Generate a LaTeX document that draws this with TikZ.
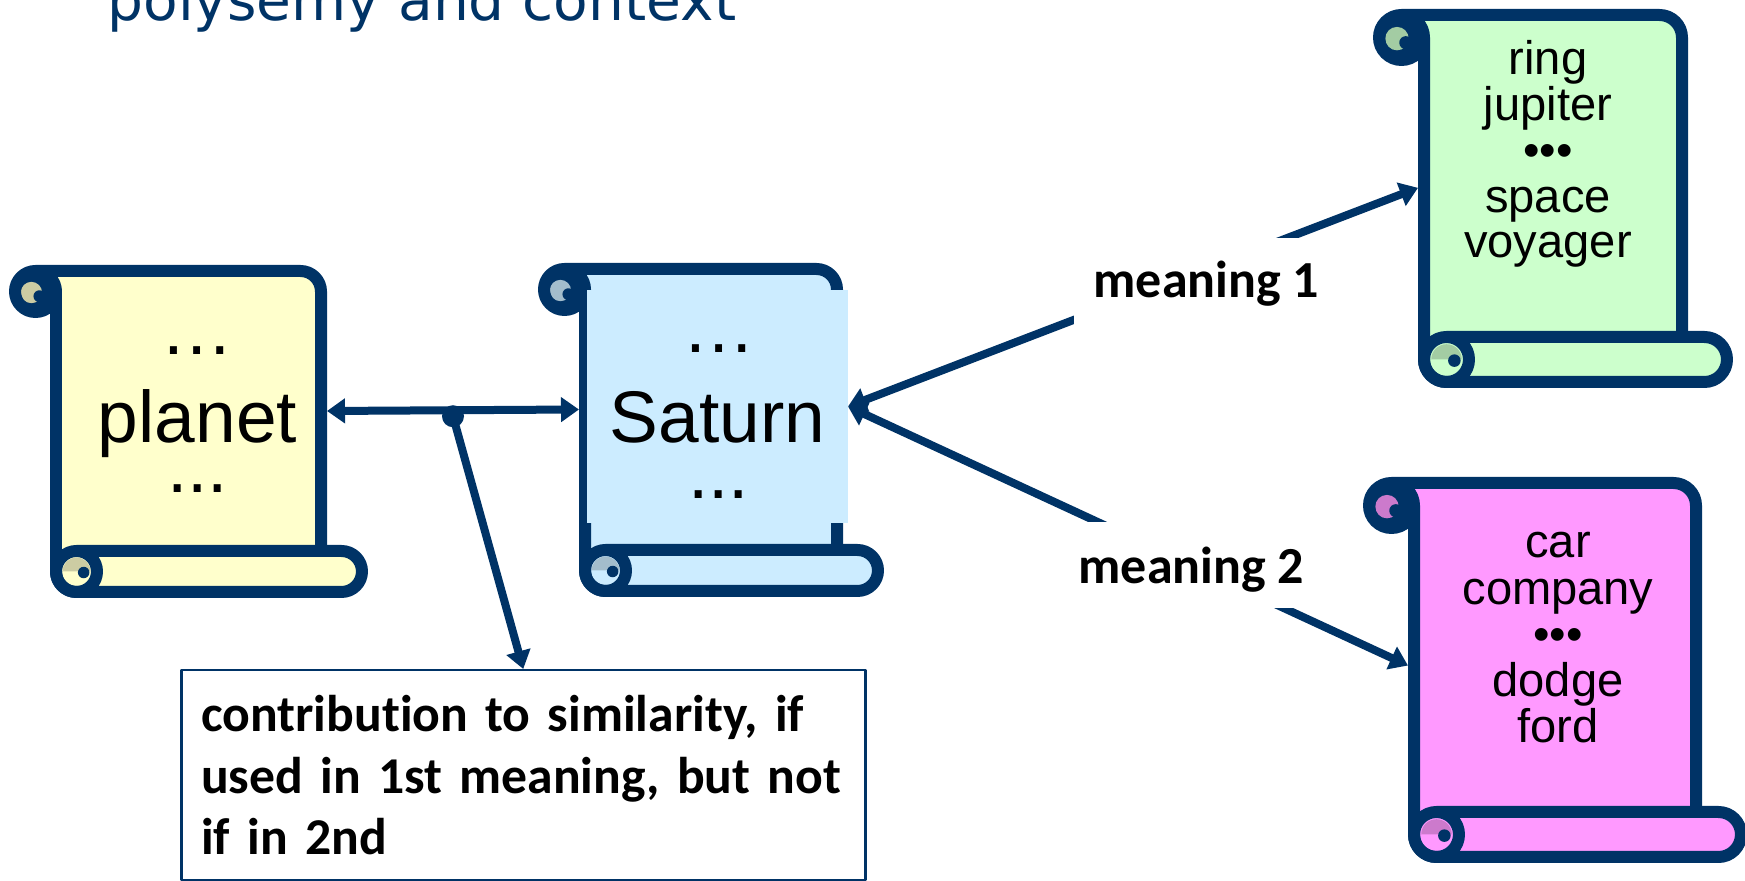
\documentclass[tikz,border=0pt]{standalone}
\usepackage{fontspec}
\setmainfont{Liberation Sans}
\newfontfamily\labelfont[Ligatures=NoCommon]{Carlito}
\newfontfamily\titlefont{DejaVu Sans}
\usetikzlibrary{arrows.meta, calc}

\definecolor{navy}{RGB}{0,51,102}
\definecolor{paperyellow}{RGB}{255,255,204}
\definecolor{shadeyellow}{RGB}{204,204,163}
\definecolor{paperblue}{RGB}{204,236,255}
\definecolor{shadeblue}{RGB}{163,189,204}
\definecolor{papergreen}{RGB}{204,255,204}
\definecolor{shadegreen}{RGB}{163,204,163}
\definecolor{paperpink}{RGB}{255,153,255}
\definecolor{shadepink}{RGB}{204,122,204}

\begin{document}
\begin{tikzpicture}[line cap=round, line join=round, >={Triangle[length=0.18cm, width=0.24cm]},
	scrollline/.style={navy, line width=0.12cm},
	link/.style={navy, line width=0.08cm},
	body/.style={draw=none, inner sep=0, outer sep=0},
	bigword/.style={anchor=base, inner sep=0, font=\fontsize{20.8}{25}\selectfont},
	smallword/.style={anchor=base, inner sep=0, font=\fontsize{13.4}{16}\selectfont},
	meaning/.style={anchor=base west, fill=white, inner xsep=0.2cm, inner ysep=0.12cm, font=\labelfont\bfseries\fontsize{14.8}{17}\selectfont},
	note/.style={anchor=north west, draw=navy, line width=0.025cm, text width=6.44cm, inner xsep=0.2cm, inner ysep=0.25cm, align=left, font=\labelfont\bfseries\fontsize{14.7}{17.5}\selectfont}]
	
	% Page size
	\useasboundingbox (0,0) rectangle (17.45,-8.81);
	
	% Title
	\node[anchor=base west, inner sep=0, text=navy, font=\titlefont\fontsize{16.1}{19}\selectfont] (title) at (1.07,-0.21) {polysemy and context};
	
	% Draw the four scrolls
	\foreach \nm/\xl/\yt/\xr/\yb/\cd/\fc/\shd in {
		planet/0.15/-2.71/3.62/-5.92/0.41/paperyellow/shadeyellow,
		saturn/5.44/-2.69/8.78/-5.91/0.41/paperblue/shadeblue,
		astro/13.79/-0.15/17.27/-3.82/0.45/papergreen/shadegreen,
		auto/13.69/-4.83/17.41/-8.57/0.45/paperpink/shadepink} {
		\pgfmathsetmacro{\rr}{\cd/2}
		\pgfmathsetmacro{\bw}{\xr-\xl-2*\cd+0.12}
		\pgfmathsetmacro{\bh}{\yt-\yb-\cd}
		
		% paper
		\fill[\fc] (\xl+\rr,\yt) -- (\xr-\cd-\rr,\yt) arc[start angle=90, end angle=0, radius=\rr]
			-- (\xr-\cd,\yb+\cd) -- (\xr-\rr,\yb+\cd) arc[start angle=90, end angle=-90, radius=\rr]
			-- (\xl+\cd+\rr,\yb) arc[start angle=270, end angle=180, radius=\rr] -- (\xl+\cd,\yt-\rr) -- cycle;
		
		% curls
		\fill[navy] (\xl+\rr,\yt-\rr) circle[radius=\rr];
		\fill[\shd] (\xl+0.8*\rr,\yt-1.05*\rr) circle[radius=0.52*\rr];
		\fill[\shd] (\xl+\cd+0.32*\rr,\yb+\rr) arc[start angle=180, end angle=0, radius=0.68*\rr] -- cycle;
		
		% outline
		\draw[scrollline] (\xl+\rr,\yt) -- (\xr-\cd-\rr,\yt) arc[start angle=90, end angle=0, radius=\rr] -- (\xr-\cd,\yb+\cd);
		\draw[scrollline] (\xl+\cd,\yt-\rr) -- (\xl+\cd,\yb+\rr) arc[start angle=180, end angle=270, radius=\rr]
			-- (\xr-\rr,\yb) arc[start angle=-90, end angle=90, radius=\rr] -- (\xl+\cd+\rr,\yb+\cd);
		\draw[scrollline] (\xl+\rr,\yt-\rr) circle[radius=\rr];
		\draw[scrollline] (\xl+\cd+\rr,\yb+\rr) circle[radius=\rr];
		\fill[navy] (\xl+1.19*\rr,\yt-1.23*\rr) circle[radius=0.29*\rr];
		\fill[navy] (\xl+\cd+1.35*\rr,\yb+0.95*\rr) circle[radius=0.28*\rr];
		
		% body of the scroll
		\node[body, minimum width=\bw cm, minimum height=\bh cm] (\nm) at ({(\xl+\xr)/2},{(\yt+\yb+\cd)/2}) {};
	}
	
	% Saturn page
	\node[body, fill=paperblue, minimum width=2.61cm, minimum height=2.33cm] (saturnpage) at (7.175,-4.065) {};
	
	% Words on the scrolls
	\node[bigword] (planettop) at (1.975,-3.55) {…};
	\node[bigword] (planetword) at (1.975,-4.43) {planet};
	\node[bigword] (planetbottom) at (1.975,-4.93) {...};
	\node[bigword] (saturntop) at (7.195,-3.53) {…};
	\node[bigword] (saturnword) at (7.175,-4.43) {Saturn};
	\node[bigword] (saturnbottom) at (7.185,-4.99) {...};
	\foreach \w [count=\i from 0] in {ring, jupiter, •••, space, voyager} {
		\node[smallword] (astro\i) at (15.48,{-0.75-0.4575*\i}) {\w};
	}
	\foreach \w [count=\i from 0] in {car, company, •••, dodge, ford} {
		\node[smallword] (auto\i) at (15.58,{-5.58-0.4625*\i}) {\w};
	}
	
	% Note box
	\node[note] (note) at (1.80,-6.69) {contribution to similarity, if\\used in 1st meaning, but not\\if in 2nd};
	
	% Connectors
	\coordinate (mid) at ($(planet.east)!0.5!(saturn.west)+(0,-0.06)$);
	\draw[link, <->] (planet.east) -- (saturn.west);
	\fill[navy] (mid) circle (0.11);
	\draw[link, ->] (mid) -- (note.north);
	\draw[link, <->] (saturnpage.east) -- (astro.185);
	\draw[link, <->] (saturnpage.east) -- (auto.187);
	
	% Meaning labels
	\node[meaning, text height=0.48cm, text depth=0.2cm] (senseA) at (10.73,-2.98) {meaning 1};
	\node[meaning, text height=0.5cm, text depth=0.12cm] (senseB) at (10.58,-5.84) {meaning 2};
	
\end{tikzpicture}
\end{document}
